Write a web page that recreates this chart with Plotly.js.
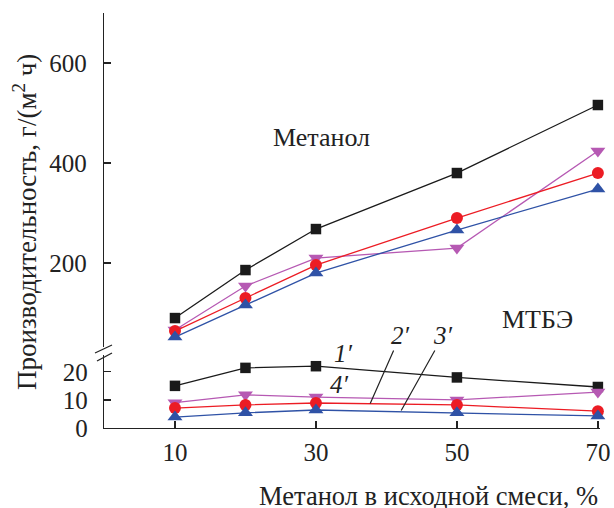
<!DOCTYPE html>
<html>
<head>
<meta charset="utf-8">
<script src="https://cdn.plot.ly/plotly-3.0.1.min.js"></script>
<style>
  html, body { margin: 0; padding: 0; background: #fff; }
  #chart { width: 614px; height: 508px; }
</style>
</head>
<body>
<div id="chart"></div>
<script>
// Methanol share in the initial mixture, %
const methanolShare = [10, 20, 30, 50, 70];

// Productivity for methanol, g/(m^2 h), curves 1-4
const methanol1 = [90, 186, 268, 380, 516];
const methanol2 = [64, 130, 196, 290, 380];
const methanol3 = [52, 116, 180, 266, 348];
const methanol4 = [66, 154, 210, 230, 424];

// Productivity for MTBE, g/(m^2 h), curves 1'-4'
const mtbe1 = [15, 21.4, 22, 18, 14.6];
const mtbe2 = [7.1, 8.2, 8.9, 8.2, 6.0];
const mtbe3 = [3.9, 5.4, 6.4, 5.4, 4.3];
const mtbe4 = [9.0, 11.8, 11.0, 10.0, 12.8];

const xTicks = [10, 30, 50, 70];
const upperTicks = [200, 400, 600];
const lowerTicks = [0, 10, 20];

const FONT = '"Liberation Serif", "Times New Roman", Times, serif';
const C_BLACK = '#1a1a1a', C_RED = '#ec1c24', C_BLUE = '#2f52a6', C_MAG = '#b659b3';

const styles = [
  { color: C_BLACK, symbol: 'square', size: 10.5 },
  { color: C_MAG, symbol: 'triangle-down', size: 13 },
  { color: C_RED, symbol: 'circle', size: 12 },
  { color: C_BLUE, symbol: 'triangle-up', size: 13 }
];

function series(y, st, yaxis) {
  return {
    x: methanolShare, y: y, xaxis: 'x', yaxis: yaxis,
    type: 'scatter', mode: 'lines+markers', cliponaxis: false,
    line: { color: st.color, width: 1.3 },
    marker: { color: st.color, symbol: st.symbol, size: st.size, line: { width: 0 } },
    hoverinfo: 'x+y'
  };
}

const traces = [
  series(methanol1, styles[0], 'y2'),
  series(methanol4, styles[1], 'y2'),
  series(methanol2, styles[2], 'y2'),
  series(methanol3, styles[3], 'y2'),
  series(mtbe1, styles[0], 'y'),
  series(mtbe4, styles[1], 'y'),
  series(mtbe2, styles[2], 'y'),
  series(mtbe3, styles[3], 'y')
];

const axisCommon = {
  showgrid: false, zeroline: false, showline: true,
  linecolor: '#222', linewidth: 1.3,
  ticks: 'inside', ticklen: 7, tickwidth: 1.3, tickcolor: '#222',
  tickfont: { family: FONT, size: 25, color: '#222' }
};

// paper-space text placed by pixel position inside the plot area
const PW = 496, PH = 415, PL = 104, PB = 428;
const txt = (text, px, py, size, extra) => Object.assign({
  text: text, xref: 'paper', yref: 'paper',
  x: (px - PL) / PW, y: (PB - py) / PH,
  xanchor: 'center', yanchor: 'middle', showarrow: false,
  font: { family: FONT, size: size, color: '#222' }
}, extra || {});

const layout = {
  width: 614, height: 508,
  margin: { l: 104, r: 14, t: 13, b: 80 },
  paper_bgcolor: '#fff', plot_bgcolor: '#fff',
  showlegend: false,
  font: { family: FONT, color: '#222' },
  xaxis: Object.assign({}, axisCommon, {
    range: [-0.07, 70.3], tickvals: xTicks, anchor: 'y',
    ticklabelstandoff: 2
  }),
  yaxis: Object.assign({}, axisCommon, {
    domain: [0, 0.176], range: [0, 26], tickvals: lowerTicks, anchor: 'x',
    ticklabelstandoff: 10
  }),
  yaxis2: Object.assign({}, axisCommon, {
    domain: [0.195, 1], range: [32, 700], tickvals: upperTicks, anchor: 'x',
    ticklabelstandoff: 11
  }),
  shapes: [
    // axis break marks
    { type: 'line', xref: 'paper', yref: 'paper',
      x0: -9 / PW, y0: 75 / PH, x1: 8 / PW, y1: 83 / PH,
      line: { color: '#222', width: 1.3 } },
    { type: 'line', xref: 'paper', yref: 'paper',
      x0: -7 / PW, y0: 67 / PH, x1: 8 / PW, y1: 75 / PH,
      line: { color: '#222', width: 1.3 } }
  ],
  annotations: [
    txt('Метанол', 321, 137, 26),
    txt('МТБЭ', 537, 319, 26),
    txt('<i>1′</i>', 343, 353, 25),
    txt('<i>4′</i>', 339, 384, 25),
    {
      text: '<i>2′</i>', xref: 'x', yref: 'y', x: 37.7, y: 8.7,
      showarrow: true, arrowhead: 0, arrowwidth: 1.2, arrowcolor: '#222',
      ax: 30, ay: -68, standoff: 0,
      font: { family: FONT, size: 25, color: '#222' }
    },
    {
      text: '<i>3′</i>', xref: 'x', yref: 'y', x: 42.1, y: 6.2,
      showarrow: true, arrowhead: 0, arrowwidth: 1.2, arrowcolor: '#222',
      ax: 42, ay: -75, standoff: 0,
      font: { family: FONT, size: 25, color: '#222' }
    },
    txt('Метанол в исходной смеси, %', 428, 496, 26.5),
    txt('Производительность, г/(м<sup>2</sup> ч)', 25, 222, 27, { textangle: -90 })
  ]
};

Plotly.newPlot('chart', traces, layout, { displayModeBar: false, staticPlot: true });
</script>
</body>
</html>
